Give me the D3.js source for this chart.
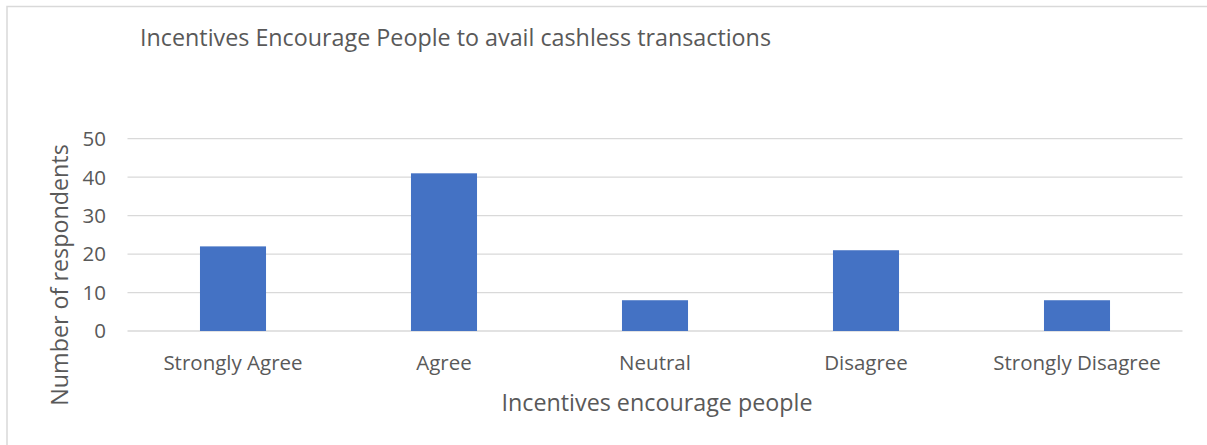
<!DOCTYPE html>
<html>
<head>
<meta charset="utf-8">
<script src="https://cdn.jsdelivr.net/npm/d3@7"></script>
<style>
  html, body { margin: 0; padding: 0; background: #fff; }
  svg text { font-family: "Open Sans", "Noto Sans", sans-serif; fill: #595959; }
</style>
</head>
<body>
<svg id="chart" width="1207" height="445"></svg>
<script>
// Survey responses
const categories = ["Strongly Agree", "Agree", "Neutral", "Disagree", "Strongly Disagree"];
const respondents = [22, 41, 8, 21, 8];
const yTicks = [0, 10, 20, 30, 40, 50];

const chartTitle = "Incentives Encourage People to avail cashless transactions";
const xTitle = "Incentives encourage people";
const yTitle = "Number of respondents";

const svg = d3.select("#chart");
const W = 1207, H = 445;
const plot = { left: 127.5, right: 1182.5, top: 138.7, bottom: 331 };

// chart frame (top and left edges visible)
svg.append("rect")
  .attr("x", 7).attr("y", 6.5)
  .attr("width", W + 10).attr("height", H + 10)
  .attr("fill", "none").attr("stroke", "#d9d9d9").attr("stroke-width", 1.5);

const x = d3.scaleBand().domain(categories).range([plot.left, plot.right]).paddingInner(0.687).paddingOuter(0.3435);
const y = d3.scaleLinear().domain([0, 50]).range([plot.bottom, plot.top]);

// gridlines
svg.append("g").selectAll("line").data(yTicks).join("line")
  .attr("x1", plot.left).attr("x2", plot.right)
  .attr("y1", d => y(d)).attr("y2", d => y(d))
  .attr("stroke", "#d9d9d9").attr("stroke-width", 1.3);

// y tick labels
svg.append("g").selectAll("text").data(yTicks).join("text")
  .attr("x", 106).attr("y", d => y(d)).attr("dy", "0.36em")
  .attr("text-anchor", "end").attr("font-size", 20.5)
  .text(d => d);

// bars
svg.append("g").selectAll("rect").data(categories).join("rect")
  .attr("x", d => x(d)).attr("width", x.bandwidth())
  .attr("y", (d, i) => y(respondents[i]))
  .attr("height", (d, i) => y(0) - y(respondents[i]))
  .attr("fill", "#4472c4");

// category labels
svg.append("g").selectAll("text").data(categories).join("text")
  .attr("x", d => x(d) + x.bandwidth() / 2).attr("y", 370)
  .attr("text-anchor", "middle").attr("font-size", 20.5)
  .text(d => d);

// titles
svg.append("text").attr("x", 140).attr("y", 46)
  .attr("font-size", 23.3).text(chartTitle);

svg.append("text").attr("x", 657).attr("y", 411)
  .attr("text-anchor", "middle").attr("font-size", 23.3).text(xTitle);

svg.append("text")
  .attr("transform", "translate(68,275) rotate(-90)")
  .attr("text-anchor", "middle").attr("font-size", 23.3).text(yTitle);
</script>
</body>
</html>
